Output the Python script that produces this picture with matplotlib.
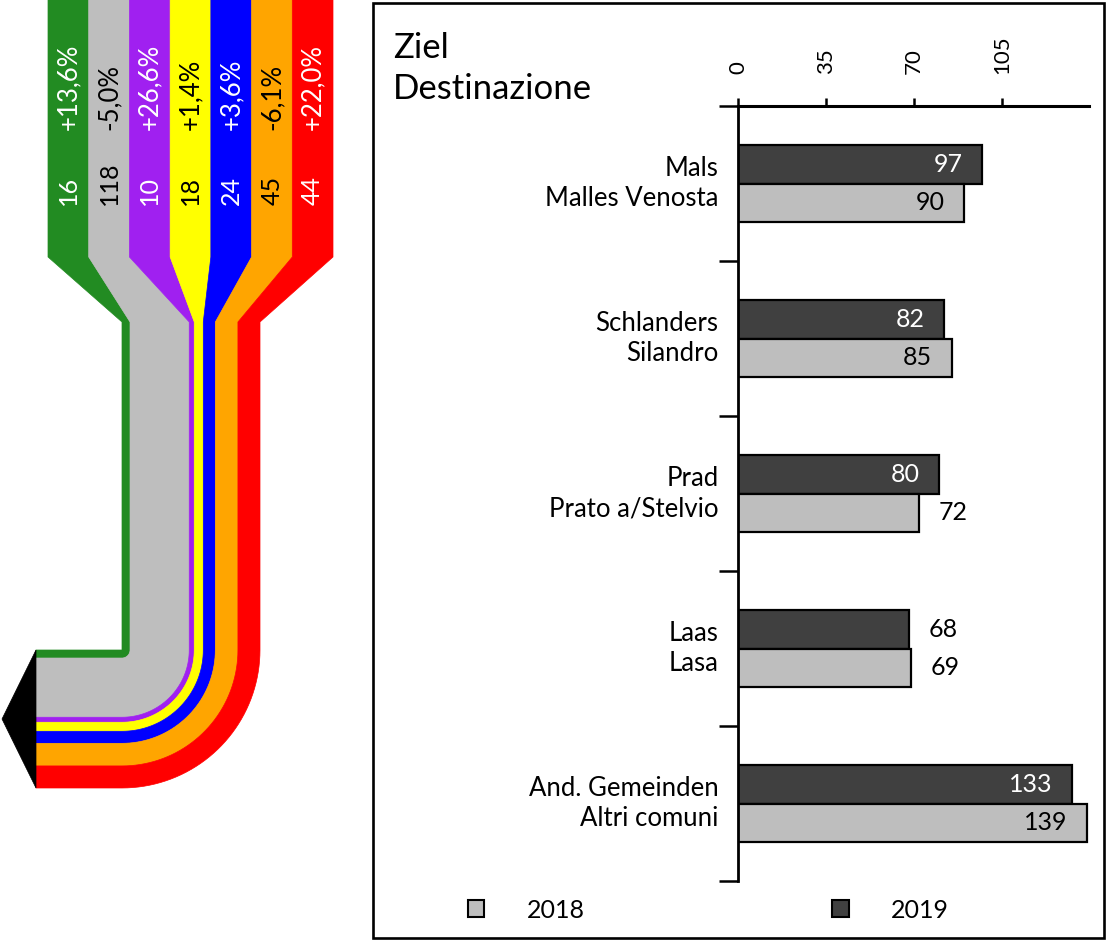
import numpy as np
import matplotlib
matplotlib.use("Agg")
import matplotlib.pyplot as plt
from matplotlib.patches import Polygon, Rectangle, Patch

plt.rcParams['font.family'] = ['Lato', 'DejaVu Sans']

# Daten: Zufluss (links)
flow_values = [16, 118, 10, 18, 24, 45, 44]
flow_changes = ["+13,6%", "-5,0%", "+26,6%", "+1,4%", "+3,6%", "-6,1%", "+22,0%"]
flow_colors = ["#228B22", "#BEBEBE", "#A020F0", "#FFFF00", "#0000FF", "#FFA500", "#FF0000"]
flow_text = ["white", "black", "white", "black", "white", "black", "white"]

# Daten: Ziel / Destinazione (rechts)
categories = ["Mals\nMalles Venosta", "Schlanders\nSilandro", "Prad\nPrato a/Stelvio",
              "Laas\nLasa", "And. Gemeinden\nAltri comuni"]
v2018 = [90, 85, 72, 69, 139]
v2019 = [97, 82, 80, 68, 133]
years = ["2018", "2019"]

W, H = 1112, 942
fig = plt.figure(figsize=(W / 100, H / 100), dpi=100)

# Hintergrund-Achse in Pixelkoordinaten
ov = fig.add_axes([0, 0, 1, 1])
ov.set_xlim(0, W)
ov.set_ylim(H, 0)
ov.axis('off')

# --- Flussdiagramm ---
top_x0, top_w = 48, 285 / 7
y_taper0, y_taper1 = 257, 322
cx, cy = 122, 650
scale = 138 / sum(flow_values)
x_end = 36

cum = np.concatenate([[0], np.cumsum(flow_values)])
theta = np.linspace(0, np.pi / 2, 40)
for i, v in enumerate(flow_values):
    a_t = top_x0 + i * top_w
    b_t = a_t + top_w
    r0 = cum[i] * scale
    r1 = cum[i + 1] * scale
    pts = [(a_t, -5), (a_t, y_taper0), (cx + r0, y_taper1), (cx + r0, cy)]
    pts += [(cx + r0 * np.cos(t), cy + r0 * np.sin(t)) for t in theta]
    pts += [(x_end, cy + r0), (x_end, cy + r1)]
    pts += [(cx + r1 * np.cos(t), cy + r1 * np.sin(t)) for t in theta[::-1]]
    pts += [(cx + r1, y_taper1), (b_t, y_taper0), (b_t, -5)]
    ov.add_patch(Polygon(pts, closed=True, facecolor=flow_colors[i],
                         edgecolor=flow_colors[i], lw=0.5))
    xc = a_t + top_w / 2
    ov.text(xc, 205, str(v), rotation=90, ha='center', va='bottom',
            fontsize=18, color=flow_text[i])
    ov.text(xc, 130, flow_changes[i], rotation=90, ha='center', va='bottom',
            fontsize=18.5, color=flow_text[i])

R = cum[-1] * scale
ov.add_patch(Polygon([(x_end, cy), (x_end, cy + R), (2, cy + R / 2)],
                     closed=True, facecolor='black', edgecolor='black', lw=0.5))

# --- Rahmen und Titel ---
ov.add_patch(Rectangle((373, 3), 731, 935, fill=False, edgecolor='black', lw=1.9))
ov.text(393, 32, "Ziel\nDestinazione", ha='left', va='top', fontsize=25,
        linespacing=1.35)

# --- Balkendiagramm ---
ax = fig.add_axes([738 / W, 1 - 881 / H, (1089 - 738) / W, (881 - 106) / H])
ax.patch.set_alpha(0)
n = len(categories)
y = np.arange(n)
h = 0.25
ax.barh(y - h / 2, v2019, height=h, color="#404040", edgecolor='black', lw=1.6,
        label=years[1])
ax.barh(y + h / 2, v2018, height=h, color="#BEBEBE", edgecolor='black', lw=1.6,
        label=years[0])

for vals, yy, inner in [(v2019, y - h / 2, 'white'), (v2018, y + h / 2, 'black')]:
    for v, yv in zip(vals, yy):
        if v >= 75:
            ax.annotate(str(v), xy=(v, yv), xytext=(-14, 0), textcoords='offset points',
                        ha='right', va='center', fontsize=18, color=inner)
        else:
            ax.annotate(str(v), xy=(v, yv), xytext=(14, 0), textcoords='offset points',
                        ha='left', va='center', fontsize=18, color='black')

ax.set_xlim(0, 139.7)
ax.set_ylim(n - 0.5, -0.5)
for s in ['right', 'bottom']:
    ax.spines[s].set_visible(False)
ax.spines['top'].set_linewidth(2.2)
ax.spines['left'].set_linewidth(2.0)

ax.xaxis.tick_top()
ax.set_xticks([0, 35, 70, 105])
ax.set_xticklabels(["0", "35", "70", "105"], rotation=90)
ax.tick_params(axis='x', direction='out', length=6, width=1.8, pad=17, labelsize=16)

ax.set_yticks(np.arange(n + 1) - 0.5)
ax.set_yticklabels([])
ax.tick_params(axis='y', which='major', direction='out', length=14, width=1.8)
ax.set_yticks(y, minor=True)
ax.set_yticklabels(categories, minor=True, fontsize=18.5)
ax.tick_params(axis='y', which='minor', length=0, pad=14)
for lbl in ax.get_yticklabels(minor=True):
    lbl.set_linespacing(1.25)
    lbl.set_ha('right')
    lbl.set_va('center')

handles = [Patch(facecolor="#BEBEBE", edgecolor='black', lw=1.5),
           Patch(facecolor="#404040", edgecolor='black', lw=1.5)]
fig.legend(handles, years, loc='center left', bbox_to_anchor=(468 / W, 1 - 910 / H),
           ncol=2, frameon=False, fontsize=18, handlelength=0.65, handleheight=0.65,
           handletextpad=1.7, columnspacing=9.9, borderpad=0, borderaxespad=0)

fig.savefig("out.png", dpi=100)
